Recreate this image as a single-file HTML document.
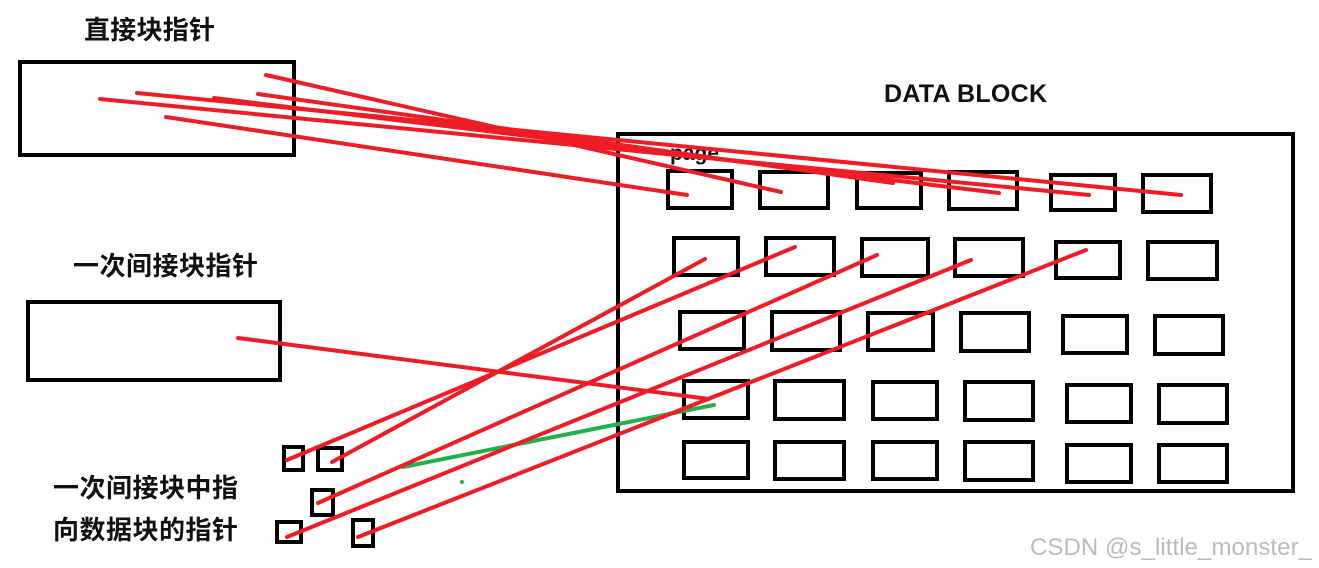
<!DOCTYPE html>
<html><head><meta charset="utf-8"><style>
body{margin:0;background:#fff;}
svg{display:block}
</style></head><body>
<svg width="1319" height="568" xmlns="http://www.w3.org/2000/svg">
<g fill="none" stroke="#000" stroke-width="4">
<rect x="20" y="62" width="274" height="93"/>
<rect x="28" y="302" width="252" height="78"/>
<rect x="618" y="134" width="675" height="357"/>
<rect x="668" y="171" width="64" height="37"/><rect x="760" y="172" width="68" height="36"/><rect x="857" y="173" width="64" height="35"/><rect x="949" y="172" width="68" height="37"/><rect x="1051" y="175" width="64" height="35"/><rect x="1143" y="175" width="68" height="37"/>
<rect x="674" y="238" width="64" height="37"/><rect x="766" y="238" width="68" height="37"/><rect x="862" y="239" width="66" height="37"/><rect x="955" y="239" width="68" height="37"/><rect x="1056" y="242" width="64" height="36"/><rect x="1148" y="242" width="69" height="37"/>
<rect x="680" y="312" width="64" height="37"/><rect x="772" y="312" width="68" height="38"/><rect x="868" y="313" width="65" height="37"/><rect x="961" y="313" width="68" height="38"/><rect x="1063" y="316" width="64" height="37"/><rect x="1155" y="316" width="68" height="38"/>
<rect x="684" y="381" width="64" height="37"/><rect x="775" y="381" width="69" height="38"/><rect x="873" y="382" width="64" height="37"/><rect x="965" y="382" width="68" height="38"/><rect x="1067" y="385" width="64" height="37"/><rect x="1159" y="385" width="68" height="38"/>
<rect x="684" y="442" width="64" height="36"/><rect x="775" y="442" width="69" height="37"/><rect x="873" y="442" width="64" height="37"/><rect x="965" y="442" width="68" height="38"/><rect x="1067" y="445" width="64" height="37"/><rect x="1159" y="445" width="68" height="37"/>
<rect x="284" y="447" width="19" height="23"/><rect x="318" y="448" width="24" height="22"/><rect x="312" y="490" width="21" height="25"/><rect x="277" y="522" width="24" height="20"/><rect x="353" y="520" width="20" height="26"/>
</g>
<g font-family="Liberation Sans, Noto Sans CJK SC, sans-serif" font-weight="bold" fill="#111">
<text x="84" y="39" font-size="26" textLength="131">直接块指针</text>
<text x="73" y="275" font-size="26" textLength="185">一次间接块指针</text>
<text x="53" y="497" font-size="26" textLength="185">一次间接块中指</text>
<text x="53" y="539" font-size="26" textLength="185">向数据块的指针</text>
<text x="884" y="102" font-size="25" textLength="163">DATA BLOCK</text>
<text x="670" y="160" font-size="21">page</text>
</g>
<text x="1030" y="555" font-family="Liberation Sans, sans-serif" font-size="24" fill="#bbb" textLength="282">CSDN @s_little_monster_</text>
<g stroke="#ee1c25" stroke-width="4" stroke-linecap="round">
<line x1="166" y1="117" x2="687" y2="195"/>
<line x1="266" y1="75" x2="781" y2="192"/>
<line x1="258" y1="94" x2="893" y2="183"/>
<line x1="214" y1="98" x2="999" y2="193"/>
<line x1="100" y1="99" x2="1089" y2="195"/>
<line x1="137" y1="93" x2="1181" y2="195"/>
<line x1="238" y1="338" x2="709" y2="399"/>
</g>
<line x1="403" y1="467" x2="714" y2="405" stroke="#22b14c" stroke-width="4" stroke-linecap="round"/>
<circle cx="462" cy="482" r="2" fill="#22b14c"/>
<g stroke="#ee1c25" stroke-width="4" stroke-linecap="round">
<line x1="287" y1="460" x2="795" y2="247"/>
<line x1="332" y1="462" x2="705" y2="259"/>
<line x1="318" y1="503" x2="877" y2="255"/>
<line x1="287" y1="537" x2="971" y2="260"/>
<line x1="358" y1="537" x2="1086" y2="250"/>
</g>
</svg>
</body></html>
